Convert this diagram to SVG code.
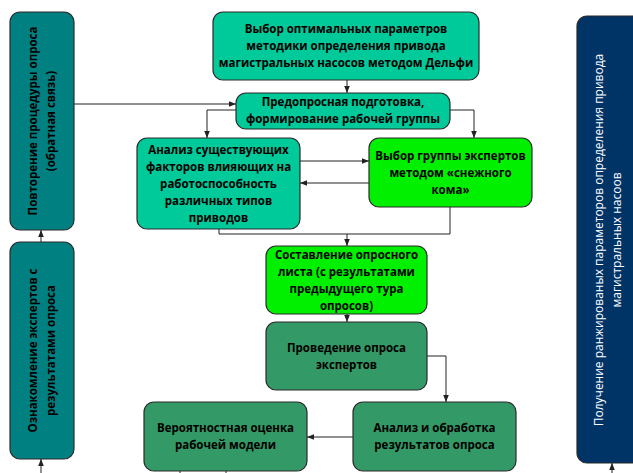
<svg xmlns="http://www.w3.org/2000/svg" width="633" height="473" viewBox="0 0 633 473">
<style>
.box{stroke:#2b2b2b;stroke-width:1.2}
.aq{fill:#00C99A}
.lime{fill:#00F000}
.dg{fill:#339966}
.teal{fill:#008080}
.navy{fill:#003366}
.t{font-family:"Open Sans","Liberation Sans",sans-serif;font-weight:bold;font-size:11.5px;text-anchor:middle;fill:#000}
.tv{font-family:"Open Sans","Liberation Sans",sans-serif;font-weight:bold;font-size:11.5px;text-anchor:middle;fill:#000}
.tw{font-family:"Open Sans","Liberation Sans",sans-serif;font-size:12px;text-anchor:middle;fill:#fff}
.c{fill:none;stroke:#222;stroke-width:1}
</style>
<defs>
<marker id="ah" viewBox="0 0 10 10" refX="10" refY="5" markerWidth="7" markerHeight="7" markerUnits="userSpaceOnUse" orient="auto">
<path d="M0,1 L10,5 L0,9 z" fill="#222"/>
</marker>
</defs>

<g id="connectors">
<path class="c" d="M74,104 H236" marker-end="url(#ah)"/>
<path class="c" d="M347,80 V93" marker-end="url(#ah)"/>
<path class="c" d="M236,110 H207 V138" marker-end="url(#ah)"/>
<path class="c" d="M450,110 H474 V138" marker-end="url(#ah)"/>
<path class="c" d="M300,161 H369" marker-end="url(#ah)"/>
<path class="c" d="M369,183 H300" marker-end="url(#ah)"/>
<path class="c" d="M219,229 V234 H450 V207"/>
<path class="c" d="M347,234 V246" marker-end="url(#ah)"/>
<path class="c" d="M347,314 V322" marker-end="url(#ah)"/>
<path class="c" d="M427,356 H446 V402" marker-end="url(#ah)"/>
<path class="c" d="M353,437 H307" marker-end="url(#ah)"/>
<path class="c" d="M180,471 V473"/>
<path class="c" d="M226,471 V473"/>
<path class="c" d="M41,473 V459" marker-end="url(#ah)"/>
<path class="c" d="M41,242 V230" marker-end="url(#ah)"/>
<path class="c" d="M612,473 V463" marker-end="url(#ah)"/>
</g>

<g id="n_repeat">
<rect class="box teal" x="10" y="12" width="64" height="218" rx="10"/>
<text class="tv" transform="translate(42,121) rotate(-90)"><tspan x="0" y="-5">Повторение процедуры опроса</tspan><tspan x="0" y="13">(обратная связь)</tspan></text>
</g>

<g id="n_acquaint">
<rect class="box teal" x="10" y="242" width="64" height="217" rx="10"/>
<text class="tv" transform="translate(42,350.5) rotate(-90)"><tspan x="0" y="-5">Ознакомление экспертов с</tspan><tspan x="0" y="13">результатами опроса</tspan></text>
</g>

<g id="n_result">
<rect class="box navy" x="577" y="16" width="70" height="447" rx="10"/>
<text class="tw" transform="translate(608,240) rotate(-90)"><tspan x="0" y="-5">Получение ранжированых параметоров определения привода</tspan><tspan x="0" y="13">магистральных насоов</tspan></text>
</g>

<g id="n_choice">
<rect class="box aq" x="213" y="12" width="266" height="68" rx="10"/>
<text class="t"><tspan x="346" y="33">Выбор оптимальных параметров</tspan><tspan x="346" y="50">методики определения привода</tspan><tspan x="346" y="67">магистральных насосов методом Дельфи</tspan></text>
</g>

<g id="n_prep">
<rect class="box aq" x="236" y="93" width="214" height="36" rx="10"/>
<text class="t"><tspan x="343" y="106">Предопросная подготовка,</tspan><tspan x="343" y="123">формирование рабочей группы</tspan></text>
</g>

<g id="n_analysis">
<rect class="box aq" x="137" y="138" width="163" height="91" rx="10"/>
<text class="t"><tspan x="218.5" y="154">Анализ существующих</tspan><tspan x="218.5" y="171">факторов влияющих на</tspan><tspan x="218.5" y="188">работоспособность</tspan><tspan x="218.5" y="205">различных типов</tspan><tspan x="218.5" y="222">приводов</tspan></text>
</g>

<g id="n_group">
<rect class="box lime" x="369" y="138" width="163" height="69" rx="10"/>
<text class="t"><tspan x="450.5" y="160">Выбор группы экспертов</tspan><tspan x="450.5" y="177">методом «снежного</tspan><tspan x="450.5" y="194">кома»</tspan></text>
</g>

<g id="n_sheet">
<rect class="box lime" x="266" y="246" width="161" height="68" rx="10"/>
<text class="t"><tspan x="346.5" y="259">Составление опросного</tspan><tspan x="346.5" y="276">листа (с результатами</tspan><tspan x="346.5" y="293">предыдущего тура</tspan><tspan x="346.5" y="310">опросов)</tspan></text>
</g>

<g id="n_survey">
<rect class="box dg" x="266" y="322" width="161" height="68" rx="10"/>
<text class="t"><tspan x="346.5" y="352">Проведение опроса</tspan><tspan x="346.5" y="369">экспертов</tspan></text>
</g>

<g id="n_process">
<rect class="box dg" x="353" y="402" width="163" height="69" rx="10"/>
<text class="t"><tspan x="434.5" y="432">Анализ и обработка</tspan><tspan x="434.5" y="449">результатов опроса</tspan></text>
</g>

<g id="n_prob">
<rect class="box dg" x="144" y="402" width="163" height="69" rx="10"/>
<text class="t"><tspan x="225.5" y="432">Вероятностная оценка</tspan><tspan x="225.5" y="449">рабочей модели</tspan></text>
</g>
</svg>
